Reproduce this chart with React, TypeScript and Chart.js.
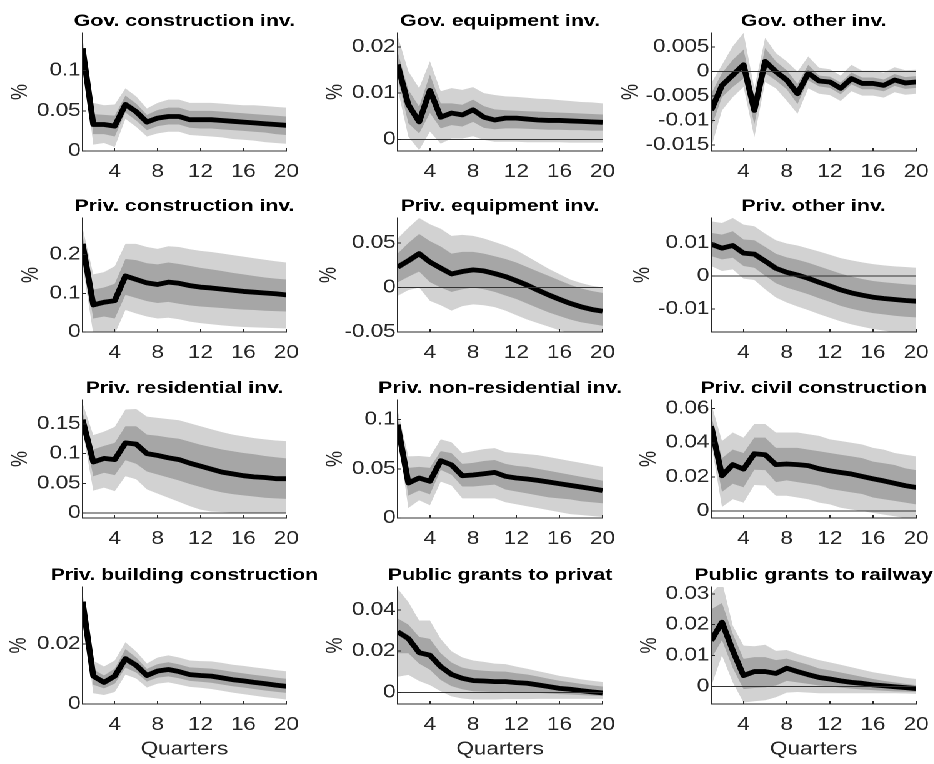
import React, { useEffect, useRef } from 'react';
import { Chart, registerables } from 'chart.js';

Chart.register(...registerables);
Chart.defaults.font.family = '"Liberation Sans", Arial, Helvetica, sans-serif';
Chart.defaults.color = '#262626';

// ---------------- data ----------------
const QUARTERS = [1, 2, 3, 4, 5, 6, 7, 8, 9, 10, 11, 12, 13, 14, 15, 16, 17, 18, 19, 20];
const X_TICKS = [4, 8, 12, 16, 20];

const TITLES = [
  'Gov. construction inv.', 'Gov. equipment inv.', 'Gov. other inv.',
  'Priv. construction inv.', 'Priv. equipment inv.', 'Priv. other inv.',
  'Priv. residential inv.', 'Priv. non-residential inv.', 'Priv. civil construction',
  'Priv. building construction', 'Public grants to privat', 'Public grants to railway',
];

const Y_TICKS = [
  [0, 0.05, 0.1], [0, 0.01, 0.02], [-0.015, -0.01, -0.005, 0, 0.005],
  [0, 0.1, 0.2], [-0.05, 0, 0.05], [-0.01, 0, 0.01],
  [0, 0.05, 0.1, 0.15], [0, 0.05, 0.1], [0, 0.02, 0.04, 0.06],
  [0, 0.02], [0, 0.02, 0.04], [0, 0.01, 0.02, 0.03],
];
const Y_MIN = [0, -0.0025, -0.0162, 0, -0.05, -0.0169, -0.008, 0, -0.004, 0, -0.0057, -0.0057];
const Y_MAX = [0.147, 0.023, 0.0079, 0.295, 0.078, 0.0175, 0.19, 0.12, 0.065, 0.039, 0.0513, 0.0322];

// Gov. construction inv.
const GC_MED = [0.128, 0.033, 0.033, 0.031, 0.058, 0.049, 0.036, 0.041, 0.043, 0.043, 0.039, 0.039, 0.039, 0.038, 0.037, 0.036, 0.035, 0.034, 0.033, 0.032];
const GC_LO68 = [0.123, 0.021, 0.021, 0.018, 0.048, 0.038, 0.026, 0.031, 0.033, 0.033, 0.029, 0.028, 0.028, 0.027, 0.026, 0.025, 0.024, 0.023, 0.021, 0.020];
const GC_HI68 = [0.135, 0.046, 0.045, 0.044, 0.069, 0.059, 0.045, 0.051, 0.054, 0.054, 0.050, 0.050, 0.050, 0.049, 0.048, 0.047, 0.046, 0.045, 0.044, 0.043];
const GC_LO90 = [0.118, 0.008, 0.010, 0.005, 0.040, 0.030, 0.018, 0.022, 0.024, 0.024, 0.020, 0.019, 0.018, 0.017, 0.015, 0.014, 0.013, 0.011, 0.010, 0.009];
const GC_HI90 = [0.140, 0.060, 0.057, 0.058, 0.078, 0.068, 0.053, 0.060, 0.064, 0.064, 0.060, 0.060, 0.060, 0.059, 0.058, 0.057, 0.057, 0.056, 0.055, 0.054];

// Gov. equipment inv.
const GE_MED = [0.0162, 0.0075, 0.0038, 0.0106, 0.0048, 0.0057, 0.0053, 0.0064, 0.0048, 0.0042, 0.0046, 0.0046, 0.0044, 0.0042, 0.0041, 0.0041, 0.0040, 0.0039, 0.0038, 0.0037];
const GE_LO68 = [0.0135, 0.0035, 0.0013, 0.0057, 0.0024, 0.0031, 0.0028, 0.0038, 0.0025, 0.0022, 0.0024, 0.0024, 0.0023, 0.0022, 0.0021, 0.0021, 0.0020, 0.0020, 0.0019, 0.0019];
const GE_HI68 = [0.0190, 0.0107, 0.0071, 0.0140, 0.0078, 0.0078, 0.0075, 0.0086, 0.0072, 0.0065, 0.0063, 0.0062, 0.0061, 0.0060, 0.0059, 0.0058, 0.0057, 0.0056, 0.0055, 0.0054];
const GE_LO90 = [0.0110, 0.0006, -0.0023, 0.0017, -0.0009, 0.0002, 0.0002, 0.0007, -0.0001, -0.0005, -0.0005, -0.0005, -0.0006, -0.0006, -0.0006, -0.0006, -0.0007, -0.0007, -0.0007, -0.0007];
const GE_HI90 = [0.0225, 0.0147, 0.0111, 0.0169, 0.0104, 0.0111, 0.0107, 0.0113, 0.0100, 0.0096, 0.0093, 0.0092, 0.0090, 0.0088, 0.0087, 0.0085, 0.0083, 0.0081, 0.0080, 0.0078];

// Gov. other inv.
const GO_MED = [-0.0079, -0.0028, -0.0007, 0.0014, -0.0079, 0.0021, 0.0000, -0.0017, -0.0045, -0.0003, -0.0019, -0.0021, -0.0034, -0.0014, -0.0024, -0.0024, -0.0028, -0.0017, -0.0023, -0.0021];
const GO_LO68 = [-0.0114, -0.0052, -0.0031, -0.0014, -0.0107, -0.0003, -0.0018, -0.0036, -0.0066, -0.0018, -0.0030, -0.0033, -0.0046, -0.0026, -0.0036, -0.0036, -0.0040, -0.0029, -0.0035, -0.0033];
const GO_HI68 = [-0.0045, -0.0003, 0.0024, 0.0045, -0.0055, 0.0048, 0.0021, 0.0003, -0.0025, 0.0014, -0.0008, -0.0010, -0.0022, -0.0002, -0.0012, -0.0012, -0.0016, -0.0005, -0.0011, -0.0009];
const GO_LO90 = [-0.0155, -0.0079, -0.0052, -0.0031, -0.0134, -0.0021, -0.0034, -0.0059, -0.0086, -0.0034, -0.0045, -0.0048, -0.0060, -0.0040, -0.0049, -0.0049, -0.0053, -0.0042, -0.0047, -0.0045];
const GO_HI90 = [-0.0024, 0.0014, 0.0052, 0.0079, -0.0034, 0.0069, 0.0038, 0.0021, 0.0000, 0.0031, 0.0008, 0.0005, -0.0008, 0.0014, 0.0002, 0.0002, -0.0002, 0.0009, 0.0003, 0.0004];

// Priv. construction inv.
const PC_MED = [0.228, 0.070, 0.077, 0.081, 0.145, 0.136, 0.127, 0.123, 0.129, 0.126, 0.120, 0.116, 0.114, 0.111, 0.108, 0.105, 0.103, 0.101, 0.099, 0.096];
const PC_LO68 = [0.200, 0.035, 0.040, 0.035, 0.096, 0.088, 0.080, 0.075, 0.078, 0.073, 0.069, 0.066, 0.064, 0.062, 0.060, 0.058, 0.057, 0.055, 0.054, 0.053];
const PC_HI68 = [0.250, 0.110, 0.115, 0.125, 0.189, 0.186, 0.178, 0.175, 0.180, 0.176, 0.171, 0.166, 0.162, 0.158, 0.153, 0.149, 0.145, 0.141, 0.138, 0.136];
const PC_LO90 = [0.175, -0.005, 0.000, -0.005, 0.057, 0.048, 0.040, 0.035, 0.037, 0.033, 0.027, 0.023, 0.020, 0.017, 0.015, 0.013, 0.012, 0.011, 0.010, 0.009];
const PC_HI90 = [0.270, 0.149, 0.155, 0.170, 0.228, 0.228, 0.220, 0.215, 0.222, 0.220, 0.214, 0.210, 0.207, 0.203, 0.199, 0.195, 0.191, 0.187, 0.183, 0.180];

// Priv. equipment inv.
const PE_MED = [0.0228, 0.030, 0.038, 0.0285, 0.0217, 0.0152, 0.0179, 0.0198, 0.0186, 0.0156, 0.0122, 0.0076, 0.0027, -0.003, -0.0084, -0.0133, -0.0179, -0.0217, -0.0247, -0.0266];
const PE_LO68 = [0.0057, 0.012, 0.018, 0.006, 0.000, -0.005, -0.002, 0.000, -0.002, -0.005, -0.009, -0.013, -0.018, -0.023, -0.028, -0.032, -0.036, -0.039, -0.041, -0.043];
const PE_HI68 = [0.038, 0.050, 0.060, 0.052, 0.046, 0.038, 0.040, 0.040, 0.038, 0.035, 0.032, 0.028, 0.023, 0.018, 0.013, 0.008, 0.003, -0.001, -0.004, -0.006];
const PE_LO90 = [-0.0095, -0.003, 0.000, -0.015, -0.020, -0.026, -0.021, -0.019, -0.020, -0.022, -0.026, -0.031, -0.036, -0.040, -0.044, -0.048, -0.051, -0.053, -0.055, -0.056];
const PE_HI90 = [0.055, 0.067, 0.078, 0.071, 0.066, 0.058, 0.059, 0.058, 0.055, 0.051, 0.047, 0.042, 0.035, 0.028, 0.021, 0.015, 0.009, 0.005, 0.002, 0.000];

// Priv. other inv.
const PO_MED = [0.0096, 0.0084, 0.0092, 0.0069, 0.0066, 0.0045, 0.0023, 0.0011, 0.0003, -0.0007, -0.0019, -0.0030, -0.0042, -0.0051, -0.0058, -0.0064, -0.0068, -0.0071, -0.0074, -0.0076];
const PO_LO68 = [0.0060, 0.0050, 0.0055, 0.0030, 0.0025, 0.0001, -0.0022, -0.0035, -0.0045, -0.0055, -0.0067, -0.0078, -0.0090, -0.0099, -0.0106, -0.0112, -0.0116, -0.0120, -0.0123, -0.0125];
const PO_HI68 = [0.0130, 0.0125, 0.0135, 0.0110, 0.0108, 0.0088, 0.0067, 0.0056, 0.0049, 0.0040, 0.0029, 0.0018, 0.0007, -0.0002, -0.0009, -0.0015, -0.0019, -0.0022, -0.0025, -0.0027];
const PO_LO90 = [0.0030, 0.0015, 0.0020, -0.0008, -0.0012, -0.0040, -0.0065, -0.0080, -0.0092, -0.0103, -0.0115, -0.0126, -0.0137, -0.0146, -0.0153, -0.0160, -0.0165, -0.0170, -0.0173, -0.0175];
const PO_HI90 = [0.0165, 0.0160, 0.0175, 0.0155, 0.0150, 0.0128, 0.0108, 0.0098, 0.0092, 0.0083, 0.0074, 0.0064, 0.0054, 0.0047, 0.0041, 0.0036, 0.0032, 0.0029, 0.0027, 0.0025];

// Priv. residential inv.
const PR_MED = [0.157, 0.086, 0.092, 0.090, 0.118, 0.116, 0.100, 0.097, 0.093, 0.090, 0.084, 0.079, 0.074, 0.069, 0.066, 0.063, 0.061, 0.060, 0.058, 0.058];
const PR_LO68 = [0.148, 0.062, 0.068, 0.064, 0.089, 0.083, 0.070, 0.065, 0.060, 0.055, 0.049, 0.044, 0.039, 0.035, 0.032, 0.030, 0.028, 0.026, 0.025, 0.024];
const PR_HI68 = [0.170, 0.107, 0.113, 0.118, 0.146, 0.146, 0.132, 0.130, 0.127, 0.125, 0.120, 0.115, 0.111, 0.107, 0.104, 0.101, 0.099, 0.096, 0.094, 0.092];
const PR_LO90 = [0.140, 0.038, 0.043, 0.037, 0.062, 0.057, 0.040, 0.033, 0.026, 0.019, 0.012, 0.006, 0.003, 0.002, 0.001, 0.001, 0.001, 0.001, 0.001, 0.001];
const PR_HI90 = [0.185, 0.131, 0.137, 0.145, 0.174, 0.175, 0.162, 0.160, 0.158, 0.156, 0.151, 0.146, 0.141, 0.136, 0.132, 0.129, 0.126, 0.124, 0.122, 0.121];

// Priv. non-residential inv.
const PN_MED = [0.095, 0.0356, 0.0407, 0.0373, 0.0583, 0.054, 0.043, 0.0437, 0.045, 0.0464, 0.0424, 0.0407, 0.0397, 0.0383, 0.0366, 0.0349, 0.0332, 0.0315, 0.0298, 0.028];
const PN_LO68 = [0.090, 0.0227, 0.028, 0.024, 0.049, 0.044, 0.032, 0.032, 0.033, 0.034, 0.029, 0.027, 0.025, 0.023, 0.021, 0.020, 0.019, 0.017, 0.016, 0.015];
const PN_HI68 = [0.102, 0.051, 0.052, 0.051, 0.068, 0.066, 0.055, 0.056, 0.058, 0.059, 0.055, 0.053, 0.052, 0.050, 0.048, 0.046, 0.044, 0.042, 0.040, 0.038];
const PN_LO90 = [0.085, 0.0102, 0.018, 0.013, 0.037, 0.033, 0.020, 0.020, 0.020, 0.020, 0.016, 0.014, 0.012, 0.010, 0.008, 0.006, 0.004, 0.003, 0.002, 0.001];
const PN_HI90 = [0.110, 0.0627, 0.063, 0.062, 0.080, 0.077, 0.066, 0.068, 0.070, 0.071, 0.067, 0.066, 0.065, 0.064, 0.062, 0.060, 0.058, 0.056, 0.054, 0.052];

// Priv. civil construction
const PV_MED = [0.0497, 0.0207, 0.0272, 0.0246, 0.0336, 0.033, 0.0272, 0.0276, 0.0272, 0.0266, 0.0248, 0.0236, 0.0226, 0.0217, 0.0203, 0.0189, 0.0177, 0.0163, 0.0149, 0.0139];
const PV_LO68 = [0.044, 0.0113, 0.016, 0.014, 0.0242, 0.024, 0.017, 0.018, 0.017, 0.016, 0.015, 0.013, 0.012, 0.011, 0.010, 0.008, 0.007, 0.006, 0.005, 0.004];
const PV_HI68 = [0.056, 0.031, 0.036, 0.034, 0.043, 0.043, 0.037, 0.037, 0.037, 0.036, 0.035, 0.034, 0.033, 0.032, 0.031, 0.029, 0.028, 0.027, 0.025, 0.024];
const PV_LO90 = [0.040, 0.0024, 0.007, 0.005, 0.0153, 0.015, 0.009, 0.009, 0.008, 0.007, 0.005, 0.004, 0.002, 0.001, 0.000, -0.001, -0.002, -0.003, -0.004, -0.005];
const PV_HI90 = [0.063, 0.041, 0.046, 0.043, 0.051, 0.051, 0.046, 0.046, 0.046, 0.045, 0.044, 0.042, 0.041, 0.040, 0.039, 0.037, 0.036, 0.034, 0.033, 0.032];

// Priv. building construction
const PB_MED = [0.0341, 0.0093, 0.0072, 0.0093, 0.0151, 0.0129, 0.0095, 0.011, 0.0115, 0.0108, 0.0098, 0.0095, 0.0093, 0.0087, 0.0081, 0.0077, 0.0072, 0.0068, 0.0063, 0.0059];
const PB_LO68 = [0.032, 0.0064, 0.0052, 0.0068, 0.0121, 0.0105, 0.0075, 0.0088, 0.0092, 0.0086, 0.0077, 0.0074, 0.0071, 0.0065, 0.0059, 0.0055, 0.005, 0.0045, 0.0041, 0.0037];
const PB_HI68 = [0.036, 0.0115, 0.0095, 0.0118, 0.0183, 0.0155, 0.0117, 0.0133, 0.0139, 0.0132, 0.0122, 0.012, 0.0118, 0.0113, 0.0107, 0.0102, 0.0097, 0.0093, 0.0088, 0.0084];
const PB_LO90 = [0.031, 0.0036, 0.003, 0.004, 0.0098, 0.0085, 0.0055, 0.0068, 0.0072, 0.0065, 0.0057, 0.0054, 0.005, 0.0044, 0.0038, 0.0033, 0.0028, 0.0023, 0.0019, 0.0015];
const PB_HI90 = [0.037, 0.0144, 0.0125, 0.0145, 0.0206, 0.0175, 0.0135, 0.0155, 0.0162, 0.0155, 0.0145, 0.0143, 0.0142, 0.0137, 0.0131, 0.0127, 0.0122, 0.0118, 0.0113, 0.0109];

// Public grants to privat
const GP_MED = [0.0295, 0.0262, 0.0193, 0.0181, 0.0125, 0.0087, 0.0068, 0.0057, 0.0055, 0.0052, 0.0052, 0.0047, 0.0044, 0.0036, 0.0028, 0.0019, 0.0015, 0.0008, 0.0002, -0.0003];
const GP_LO68 = [0.019, 0.019, 0.014, 0.011, 0.006, 0.003, 0.0015, 0.0005, 0.0003, 0.0001, 0.0002, 0.0, -0.0001, -0.0003, -0.0006, -0.0009, -0.0011, -0.0014, -0.0016, -0.0018];
const GP_HI68 = [0.036, 0.033, 0.027, 0.026, 0.019, 0.0145, 0.012, 0.011, 0.0105, 0.0102, 0.0101, 0.0093, 0.0087, 0.0077, 0.0066, 0.0056, 0.0049, 0.0041, 0.0034, 0.0028];
const GP_LO90 = [0.0076, 0.0085, 0.0055, 0.0035, 0.0005, -0.002, -0.003, -0.0035, -0.0035, -0.0035, -0.0033, -0.0033, -0.0033, -0.0032, -0.0032, -0.0032, -0.0032, -0.0032, -0.0032, -0.0032];
const GP_HI90 = [0.0505, 0.044, 0.035, 0.035, 0.026, 0.020, 0.017, 0.0155, 0.0148, 0.014, 0.0137, 0.0125, 0.0115, 0.0103, 0.0092, 0.008, 0.0072, 0.0063, 0.0056, 0.005];

// Public grants to railway
const GR_MED = [0.0148, 0.0208, 0.0116, 0.0035, 0.0048, 0.0048, 0.0042, 0.0059, 0.0048, 0.0038, 0.0029, 0.0024, 0.0018, 0.0013, 0.001, 0.0005, 0.0002, -0.0001, -0.0004, -0.0007];
const GR_LO68 = [0.009, 0.015, 0.006, -0.0009, -0.0005, -0.0003, 0.0003, 0.0018, 0.0013, 0.0008, 0.0003, 0.0, -0.0004, -0.0007, -0.001, -0.0012, -0.0014, -0.0016, -0.0017, -0.0018];
const GR_HI68 = [0.025, 0.027, 0.017, 0.0089, 0.0095, 0.0095, 0.0085, 0.009, 0.008, 0.007, 0.0058, 0.0052, 0.0045, 0.0038, 0.0031, 0.0024, 0.0018, 0.0013, 0.0008, 0.0004];
const GR_LO90 = [0.0, 0.010, 0.0013, -0.0052, -0.0048, -0.0045, -0.0035, -0.002, -0.0018, -0.002, -0.0022, -0.0022, -0.0022, -0.0022, -0.0022, -0.0022, -0.0022, -0.0022, -0.0023, -0.0024];
const GR_HI90 = [0.030, 0.034, 0.0197, 0.0132, 0.013, 0.0135, 0.0115, 0.0118, 0.0105, 0.0095, 0.0085, 0.0078, 0.007, 0.0062, 0.0054, 0.0046, 0.004, 0.0034, 0.0028, 0.0024];

const SERIES = [
  [GC_MED, GC_LO68, GC_HI68, GC_LO90, GC_HI90],
  [GE_MED, GE_LO68, GE_HI68, GE_LO90, GE_HI90],
  [GO_MED, GO_LO68, GO_HI68, GO_LO90, GO_HI90],
  [PC_MED, PC_LO68, PC_HI68, PC_LO90, PC_HI90],
  [PE_MED, PE_LO68, PE_HI68, PE_LO90, PE_HI90],
  [PO_MED, PO_LO68, PO_HI68, PO_LO90, PO_HI90],
  [PR_MED, PR_LO68, PR_HI68, PR_LO90, PR_HI90],
  [PN_MED, PN_LO68, PN_HI68, PN_LO90, PN_HI90],
  [PV_MED, PV_LO68, PV_HI68, PV_LO90, PV_HI90],
  [PB_MED, PB_LO68, PB_HI68, PB_LO90, PB_HI90],
  [GP_MED, GP_LO68, GP_HI68, GP_LO90, GP_HI90],
  [GR_MED, GR_LO68, GR_HI68, GR_LO90, GR_HI90],
];

// ---------------- layout / style ----------------
const STRETCH = 1.25; // the reference is stretched horizontally
const COL_LEFT = [82, 397, 711];
const COL_RIGHT = [286, 602, 916];
const ROW_TOP = [33, 218, 400, 587];
const ROW_BOTTOM = [151, 332, 518, 704];
const YLABEL_DIST = [62, 62, 80, 51, 68, 68, 62, 62, 62, 63, 62, 61];
const AXIS_W = 75;
const TOP_SPACE = 40;
const BOTTOM_SPACE = 58;
const LIGHT = '#d2d2d2';
const DARK = '#a6a6a6';
const INK = '#262626';

const pts = (arr: number[]) => QUARTERS.map((q, i) => ({ x: q, y: arr[i] }));

function Panel({ idx }: { idx: number }) {
  const ref = useRef<HTMLCanvasElement>(null);
  const row = Math.floor(idx / 3);
  const col = idx % 3;
  const plotL = COL_LEFT[col] / STRETCH;
  const plotW = (COL_RIGHT[col] - COL_LEFT[col]) / STRETCH;
  const plotH = ROW_BOTTOM[row] - ROW_TOP[row];
  const width = Math.round(plotW + 2 * AXIS_W);
  const height = TOP_SPACE + plotH + BOTTOM_SPACE;
  const left = plotL - AXIS_W;
  const top = ROW_TOP[row] - TOP_SPACE;

  useEffect(() => {
    const [med, lo68, hi68, lo90, hi90] = SERIES[idx];
    const base = { pointRadius: 0, borderWidth: 0, tension: 0 };
    const yTitlePad = AXIS_W - YLABEL_DIST[idx] / STRETCH - 10.8;
    const chart = new Chart(ref.current as HTMLCanvasElement, {
      type: 'line',
      data: {
        datasets: [
          { ...base, data: pts(hi90), fill: '+1', backgroundColor: LIGHT, order: 2 },
          { ...base, data: pts(lo90), fill: false, order: 2 },
          { ...base, data: pts(hi68), fill: '+1', backgroundColor: DARK, order: 1 },
          { ...base, data: pts(lo68), fill: false, order: 1 },
          {
            ...base, data: pts(med), fill: false, borderColor: '#000', borderWidth: 4.8,
            borderJoinStyle: 'round', order: 0,
          },
        ],
      } as any,
      options: {
        animation: false,
        responsive: false,
        devicePixelRatio: 2,
        events: [],
        layout: { padding: { top: 18.3, left: 0, right: 0, bottom: 0 } },
        plugins: {
          legend: { display: false },
          tooltip: { enabled: false },
          title: {
            display: true, text: TITLES[idx], color: '#000',
            font: { size: 17, weight: 'bold' }, padding: { top: 0, bottom: 1.3 },
          },
        },
        scales: {
          x: {
            type: 'linear', position: 'bottom', min: 1, max: 20,
            afterBuildTicks: (s: any) => { s.ticks = X_TICKS.map((v) => ({ value: v })); },
            afterFit: (s: any) => { s.height = BOTTOM_SPACE; },
            ticks: { color: INK, font: { size: 18 }, padding: 13, maxRotation: 0, autoSkip: false },
            grid: { drawOnChartArea: false, tickLength: -3, tickColor: INK, tickWidth: 1, z: 1 },
            border: { display: true, color: INK, width: 1, z: 1 },
            title: {
              display: row === 3, text: 'Quarters', color: INK, font: { size: 18 },
              padding: { top: 0, bottom: 1.7 },
            },
          },
          y: {
            type: 'linear', position: 'left', min: Y_MIN[idx], max: Y_MAX[idx],
            afterBuildTicks: (s: any) => { s.ticks = Y_TICKS[idx].map((v) => ({ value: v })); },
            afterFit: (s: any) => { s.width = AXIS_W; },
            ticks: { color: INK, font: { size: 18 }, padding: 4.5, callback: (v: any) => String(v) },
            grid: {
              drawOnChartArea: true, z: 1, tickLength: -3, tickColor: INK, lineWidth: 1,
              color: (c: any) => (c.tick && c.tick.value === 0 ? '#333333' : 'rgba(0,0,0,0)'),
            },
            border: { display: true, color: INK, width: 1, z: 1 },
            title: {
              display: true, text: '%', color: INK, font: { size: 18 },
              padding: { top: yTitlePad, bottom: 0 },
            },
          },
          y2: {
            type: 'linear', position: 'right', display: true,
            afterFit: (s: any) => { s.width = AXIS_W; },
            ticks: { display: false }, grid: { display: false }, border: { display: false },
          },
        },
      } as any,
    });
    return () => chart.destroy();
  }, [idx]);

  return (
    <canvas
      ref={ref}
      width={width}
      height={height}
      style={{ position: 'absolute', left, top }}
    />
  );
}

export default function App() {
  return (
    <div
      style={{
        position: 'absolute', left: 0, top: 0, width: 934 / STRETCH, height: 764,
        overflow: 'hidden', transform: `scaleX(${STRETCH})`, transformOrigin: '0 0',
        background: '#fff',
      }}
    >
      {TITLES.map((_, i) => <Panel key={i} idx={i} />)}
    </div>
  );
}
